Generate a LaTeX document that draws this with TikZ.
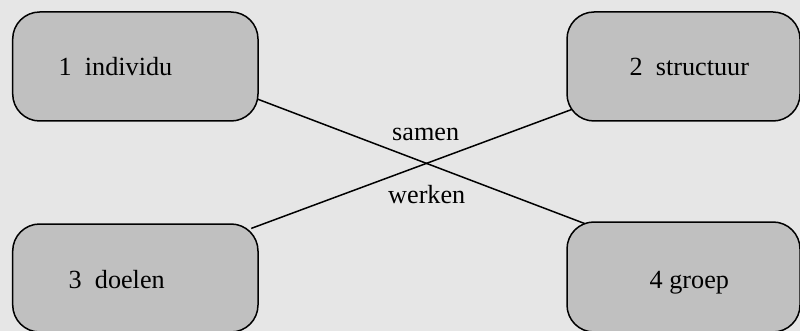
\documentclass[tikz,border=0pt]{standalone}
\usepackage{fontspec}
\setmainfont{Liberation Serif}
\definecolor{bgc}{HTML}{E6E6E6}
\definecolor{boxc}{HTML}{C0C0C0}
\pgfdeclarelayer{bg}
\pgfsetlayers{bg,main}
\begin{document}
\begin{tikzpicture}[x=1pt,y=-1pt,
  box/.style={draw=black,fill=boxc,line width=1.5pt,rounded corners=27pt,inner sep=0pt,minimum width=#1},
  box/.default=245pt,
  lbl/.style={anchor=base west,inner sep=0pt,font=\fontsize{26.2}{30}\selectfont},
  link/.style={draw=black,line width=1.5pt,shorten <=-8pt,shorten >=-8pt}]
\begin{pgfonlayer}{bg}
\fill[bgc] (0,0) rectangle (800,331);
\end{pgfonlayer}
\useasboundingbox (0,0) rectangle (800,331);
\node[box=245.3pt,minimum height=109pt] (b1) at (135.35,66.5) {};
\node[box=233pt,minimum height=109pt] (b2) at (683.5,66.5) {};
\node[box=245.3pt,minimum height=108pt] (b3) at (135.35,278) {};
\node[box=233pt,minimum height=110pt] (b4) at (683.5,277) {};
\node[lbl] (t1) at (58.5,76) {1\ \ individu};
\node[lbl] (t2) at (629.5,76) {2\ \ structuur};
\node[lbl] (t3) at (68.5,288) {3\ \ doelen};
\node[lbl] (t4) at (649.5,288) {4 groep};
\node[lbl] (s) at (392,140.5) {samen};
\node[lbl] (w) at (388,204) {werken};
\begin{pgfonlayer}{bg}
\draw[link] (b1.-15.2) -- (b4.152.6);
\draw[link] (b3.23) -- (b2.-159.8);
\end{pgfonlayer}
\end{tikzpicture}
\end{document}
